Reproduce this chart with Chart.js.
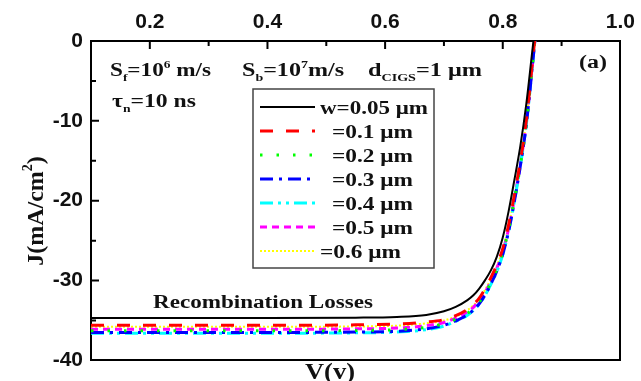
<!DOCTYPE html>
<html>
<head>
<meta charset="utf-8">
<script src="https://cdn.jsdelivr.net/npm/chart.js@4/dist/chart.umd.min.js"></script>
<style>
html, body { margin: 0; padding: 0; background: #fff; }
</style>
</head>
<body>
<canvas id="jvCurve" width="641" height="381"></canvas>
<script>
// voltage points (V) shared by all curves
const voltage = [0.10, 0.40, 0.55, 0.62, 0.67, 0.70, 0.72, 0.74, 0.75, 0.76, 0.77, 0.78, 0.79, 0.80, 0.81, 0.82, 0.83, 0.84, 0.85, 0.855];

// current density (mA/cm2) for each window layer width
const jW005 = [-34.7, -34.7, -34.65, -34.55, -34.3, -33.85, -33.3, -32.45, -31.85, -31.0, -29.95, -28.7, -27.0, -24.6, -21.3, -17.3, -13.1, -7.9, -1.4, 1.8];
const jW01 = [-35.6, -35.6, -35.55, -35.45, -35.2, -34.9, -34.4, -33.6, -33.0, -32.2, -31.0, -29.6, -28.0, -26.0, -23.0, -19.2, -15.0, -10.0, -3.0, 0.6];
const jW02 = [-36.3, -36.3, -36.25, -36.15, -35.85, -35.4, -34.85, -34.1, -33.5, -32.7, -31.6, -30.2, -28.6, -26.5, -23.6, -19.8, -15.5, -10.4, -3.3, 0.4];
const jW03 = [-36.5, -36.5, -36.45, -36.35, -36.05, -35.6, -35.05, -34.3, -33.7, -32.9, -31.8, -30.4, -28.8, -26.7, -23.8, -20.0, -15.6, -10.5, -3.4, 0.4];
const jW04 = [-36.6, -36.6, -36.55, -36.45, -36.15, -35.7, -35.1, -34.35, -33.75, -32.95, -31.85, -30.45, -28.85, -26.75, -23.8, -20.0, -15.6, -10.5, -3.4, 0.4];
const jW05 = [-36.1, -36.1, -36.05, -35.95, -35.65, -35.25, -34.7, -33.95, -33.35, -32.55, -31.45, -30.05, -28.45, -26.4, -23.5, -19.7, -15.4, -10.3, -3.3, 0.4];
const jW06 = [-35.8, -35.8, -35.75, -35.65, -35.35, -35.0, -34.5, -33.7, -33.1, -32.3, -31.15, -29.75, -28.15, -26.15, -23.2, -19.4, -15.2, -10.1, -3.2, 0.4];

const legendLabels = ['w=0.05 \u03bcm', '=0.1 \u03bcm', '=0.2 \u03bcm', '=0.3 \u03bcm', '=0.4 \u03bcm', '=0.5 \u03bcm', '=0.6 \u03bcm'];

function pts(ys) {
    return voltage.map((v, i) => ({ x: v, y: ys[i] }));
}

function curve(label, ys, color, dash, width) {
    return {
        label: label,
        data: pts(ys),
        borderColor: color,
        backgroundColor: color,
        borderDash: dash,
        borderWidth: width,
        pointRadius: 0,
        fill: false,
        cubicInterpolationMode: 'monotone'
    };
}

const serif = '"Liberation Serif", "Times New Roman", serif';

// text with sub / superscripts, squeezed or stretched to a width
function drawRich(ctx, parts, x, y, size, targetW) {
    const big = 'bold ' + size + 'px ' + serif;
    const small = 'bold ' + Math.round(size * 0.6) + 'px ' + serif;
    let total = 0;
    parts.forEach(p => {
        ctx.font = p[1] === 'n' ? big : small;
        total += ctx.measureText(p[0]).width;
    });
    const sx = targetW ? targetW / total : 1;
    ctx.save();
    ctx.translate(x, y);
    ctx.scale(sx, 1);
    ctx.fillStyle = '#111';
    ctx.textBaseline = 'alphabetic';
    ctx.textAlign = 'left';
    let cx = 0;
    parts.forEach(p => {
        ctx.font = p[1] === 'n' ? big : small;
        let dy = 0;
        if (p[1] === 'sub') dy = size * 0.25;
        if (p[1] === 'sup') dy = -size * 0.42;
        ctx.fillText(p[0], cx, dy);
        cx += ctx.measureText(p[0]).width;
    });
    ctx.restore();
}

const decor = {
    id: 'decor',
    afterDraw(chart) {
        const ctx = chart.ctx;
        const a = chart.chartArea;
        const xs = chart.scales.x;
        const ys = chart.scales.y;

        // inward tick marks
        ctx.save();
        ctx.strokeStyle = '#000';
        ctx.lineWidth = 2;
        ctx.beginPath();
        for (let k = 2; k <= 9; k++) {
            const px = xs.getPixelForValue(k / 10);
            const len = k % 2 === 0 ? 8 : 5;
            ctx.moveTo(px, a.top);
            ctx.lineTo(px, a.top + len);
        }
        for (let v = -35; v <= -5; v += 5) {
            const py = ys.getPixelForValue(v);
            const len = v % 10 === 0 ? 8 : 5;
            ctx.moveTo(a.left, py);
            ctx.lineTo(a.left + len, py);
        }
        ctx.stroke();
        ctx.restore();

        // annotations
        drawRich(ctx, [['S', 'n'], ['f', 'sub'], ['=10', 'n'], ['6', 'sup'], [' m/s', 'n']], 110, 76, 19, 101);
        drawRich(ctx, [['S', 'n'], ['b', 'sub'], ['=10', 'n'], ['7', 'sup'], ['m/s', 'n']], 242, 76, 19, 102);
        drawRich(ctx, [['d', 'n'], ['CIGS', 'sub'], ['=1 \u03bcm', 'n'], ], 368, 76, 19, 114);
        drawRich(ctx, [['\u03c4', 'n'], ['n', 'sub'], ['=10 ns', 'n']], 112, 107, 19, 84);
        drawRich(ctx, [['(a)', 'n']], 579, 68, 18, 28);
        drawRich(ctx, [['Recombination Losses', 'n']], 153, 308, 18, 220);

        // legend box
        const box = { x: 253, y: 89, w: 181, h: 179 };
        ctx.save();
        ctx.strokeStyle = '#444';
        ctx.lineWidth = 1.5;
        ctx.strokeRect(box.x, box.y, box.w, box.h);
        chart.data.datasets.forEach((ds, i) => {
            const ry = 107 + i * 24;
            ctx.save();
            ctx.strokeStyle = ds.borderColor;
            ctx.lineWidth = ds.borderWidth;
            ctx.setLineDash(ds.borderDash);
            ctx.beginPath();
            ctx.moveTo(260, ry);
            ctx.lineTo(315, ry);
            ctx.stroke();
            ctx.restore();
            const tx = (i === 0 || i === 6) ? 320 : 332;
            const tw = i === 0 ? 108 : 81;
            drawRich(ctx, [[legendLabels[i], 'n']], tx, ry + 7, 19, tw);
        });
        ctx.restore();

        // axis titles
        ctx.save();
        ctx.translate(43, 211);
        ctx.rotate(-Math.PI / 2);
        const t1 = 'J(mA/cm';
        ctx.font = 'bold 24px ' + serif;
        const w1 = ctx.measureText(t1).width;
        ctx.font = 'bold 14px ' + serif;
        const w2 = ctx.measureText('2').width;
        ctx.font = 'bold 24px ' + serif;
        const w3 = ctx.measureText(')').width;
        const tot = w1 + w2 + w3;
        ctx.fillStyle = '#111';
        ctx.fillText(t1, -tot / 2, 0);
        ctx.font = 'bold 14px ' + serif;
        ctx.fillText('2', -tot / 2 + w1, -11);
        ctx.font = 'bold 24px ' + serif;
        ctx.fillText(')', -tot / 2 + w1 + w2, 0);
        ctx.restore();

        drawRich(ctx, [['V(v)', 'n']], 305, 379, 23, 50);
    }
};

const config = {
    type: 'line',
    data: {
        datasets: [
            curve(legendLabels[0], jW005, '#000000', [], 2),
            curve(legendLabels[1], jW01, '#ff0000', [13, 13], 3),
            curve(legendLabels[2], jW02, '#00ff00', [2.5, 14], 3),
            curve(legendLabels[3], jW03, '#0000ff', [13, 6, 3, 6], 3),
            curve(legendLabels[4], jW04, '#00ffff', [13, 5, 3, 5, 3, 5], 3),
            curve(legendLabels[5], jW05, '#ff00ff', [7, 5], 3),
            curve(legendLabels[6], jW06, '#ffff00', [2, 2], 2)
        ]
    },
    options: {
        responsive: false,
        animation: false,
        layout: { padding: 0 },
        plugins: {
            legend: { display: false },
            tooltip: { enabled: false }
        },
        scales: {
            x: {
                type: 'linear',
                position: 'top',
                min: 0.1,
                max: 1.0,
                ticks: {
                    stepSize: 0.1,
                    color: '#111',
                    padding: 6,
                    maxRotation: 0,
                    autoSkip: false,
                    font: { family: '"Liberation Sans", Arial, sans-serif', size: 21, weight: 'bold' },
                    callback: v => (Math.round(v * 10) % 2 === 0 ? v.toFixed(1) : '')
                },
                grid: { display: false, drawTicks: false },
                border: { display: true, color: '#000', width: 2 },
                afterFit: s => { s.height = 41; }
            },
            x2: {
                type: 'linear',
                position: 'bottom',
                min: 0.1,
                max: 1.0,
                ticks: { display: false },
                grid: { display: false, drawTicks: false },
                border: { display: true, color: '#000', width: 2 },
                afterFit: s => { s.height = 18; }
            },
            y: {
                type: 'linear',
                position: 'left',
                min: -40,
                max: 0,
                ticks: {
                    stepSize: 10,
                    color: '#111',
                    padding: 8,
                    font: { family: '"Liberation Sans", Arial, sans-serif', size: 21, weight: 'bold' }
                },
                grid: { display: false, drawTicks: false },
                border: { display: true, color: '#000', width: 2 },
                afterFit: s => { s.width = 91; }
            },
            y2: {
                type: 'linear',
                position: 'right',
                min: -40,
                max: 0,
                ticks: { display: false },
                grid: { display: false, drawTicks: false },
                border: { display: true, color: '#000', width: 2 },
                afterFit: s => { s.width = 18; }
            }
        }
    },
    plugins: [decor]
};

var jvChart = new Chart(document.getElementById('jvCurve'), config);
</script>
</body>
</html>
